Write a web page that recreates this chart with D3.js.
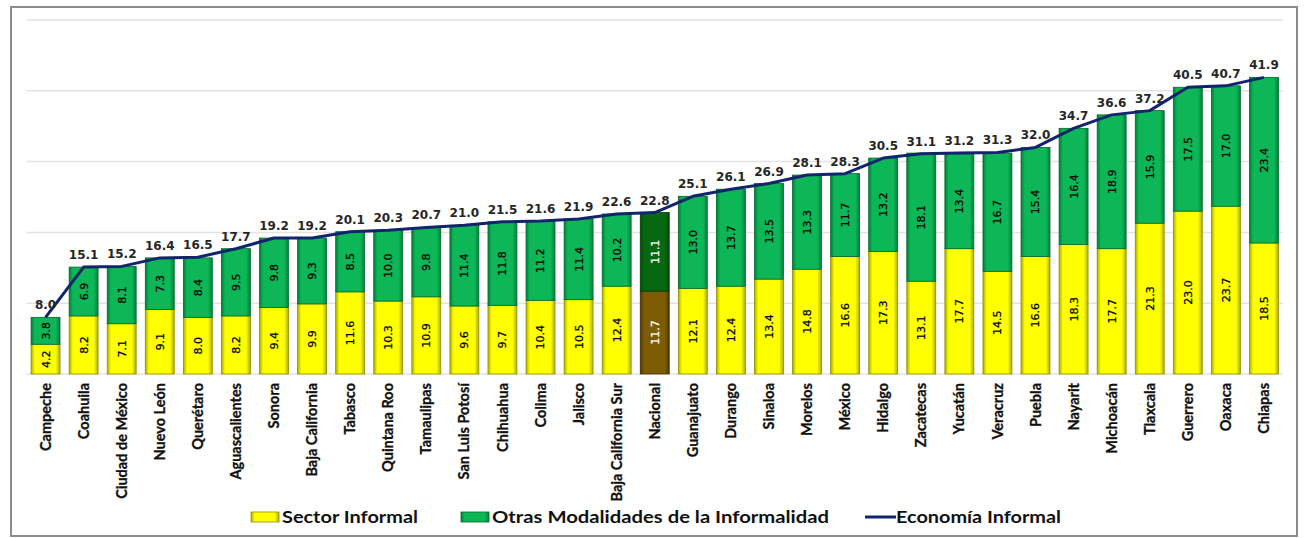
<!DOCTYPE html>
<html>
<head>
<meta charset="utf-8">
<script src="https://cdn.jsdelivr.net/npm/d3@7"></script>
<style>
  body { margin: 0; background: #fff; }
  svg { display: block; }
</style>
</head>
<body>
<div id="chart"></div>
<script>
// Datos
const estados = ["Campeche", "Coahuila", "Ciudad de México", "Nuevo León", "Querétaro", "Aguascalientes",
  "Sonora", "Baja California", "Tabasco", "Quintana Roo", "Tamaulipas", "San Luis Potosí", "Chihuahua",
  "Colima", "Jalisco", "Baja California Sur", "Nacional", "Guanajuato", "Durango", "Sinaloa", "Morelos",
  "México", "Hidalgo", "Zacatecas", "Yucatán", "Veracruz", "Puebla", "Nayarit", "Michoacán", "Tlaxcala",
  "Guerrero", "Oaxaca", "Chiapas"];
const sectorInformal = [4.2, 8.2, 7.1, 9.1, 8.0, 8.2, 9.4, 9.9, 11.6, 10.3, 10.9, 9.6, 9.7, 10.4, 10.5, 12.4,
  11.7, 12.1, 12.4, 13.4, 14.8, 16.6, 17.3, 13.1, 17.7, 14.5, 16.6, 18.3, 17.7, 21.3, 23.0, 23.7, 18.5];
const otrasModalidades = [3.8, 6.9, 8.1, 7.3, 8.4, 9.5, 9.8, 9.3, 8.5, 10.0, 9.8, 11.4, 11.8, 11.2, 11.4, 10.2,
  11.1, 13.0, 13.7, 13.5, 13.3, 11.7, 13.2, 18.1, 13.4, 16.7, 15.4, 16.4, 18.9, 15.9, 17.5, 17.0, 23.4];
const economiaInformal = [8.0, 15.1, 15.2, 16.4, 16.5, 17.7, 19.2, 19.2, 20.1, 20.3, 20.7, 21.0, 21.5, 21.6,
  21.9, 22.6, 22.8, 25.1, 26.1, 26.9, 28.1, 28.3, 30.5, 31.1, 31.2, 31.3, 32.0, 34.7, 36.6, 37.2, 40.5, 40.7, 41.9];
const yTicks = [0, 10, 20, 30, 40, 50];
const series = ["Sector Informal", "Otras Modalidades de la Informalidad", "Economía Informal"];

const width = 1304;
const height = 538;
const margin = { top: 20, right: 21, bottom: 164, left: 26.5 };

const data = estados.map((d, i) => ({
  estado: d,
  si: sectorInformal[i],
  om: otrasModalidades[i],
  total: economiaInformal[i],
}));

const svg = d3.select("div#chart").append("svg")
  .attr("width", width)
  .attr("height", height);

// Gradientes para el efecto biselado
const defs = svg.append("defs");
const grad = (id, edge, base) => {
  const g = defs.append("linearGradient").attr("id", id).attr("x1", 0).attr("x2", 1).attr("y1", 0).attr("y2", 0);
  g.append("stop").attr("offset", "0%").attr("stop-color", edge);
  g.append("stop").attr("offset", "13%").attr("stop-color", base);
  g.append("stop").attr("offset", "85%").attr("stop-color", base);
  g.append("stop").attr("offset", "100%").attr("stop-color", edge);
};
grad("gYellow", "#adad00", "#ffff00");
grad("gGreen", "#00803a", "#0db757");
grad("gBrown", "#4d3900", "#7e5c05");
grad("gDark", "#024a08", "#086812");

// Marco
svg.append("rect")
  .attr("x", 11).attr("y", 7)
  .attr("width", 1286).attr("height", 529)
  .attr("fill", "none")
  .attr("stroke", "#8c8c8c")
  .attr("stroke-width", 2);

const x = d3.scaleBand()
  .domain(estados)
  .range([margin.left, width - margin.right])
  .paddingInner(0.24)
  .paddingOuter(0.12);
const y = d3.scaleLinear()
  .domain([0, 50])
  .range([height - margin.bottom, margin.top]);

// Rejilla
svg.append("g").selectAll("line")
  .data(yTicks)
  .join("line")
  .attr("x1", margin.left)
  .attr("x2", width - margin.right)
  .attr("y1", (d) => y(d))
  .attr("y2", (d) => y(d))
  .attr("stroke", "#e3e3e3")
  .attr("stroke-width", 1.5);

// Barras
const bars = svg.append("g");
const nac = (d) => d.estado === "Nacional";
bars.selectAll("rect.si")
  .data(data)
  .join("rect")
  .attr("class", "si")
  .attr("x", (d) => x(d.estado))
  .attr("y", (d) => y(d.si))
  .attr("width", x.bandwidth())
  .attr("height", (d) => y(0) - y(d.si))
  .attr("fill", (d) => (nac(d) ? "url(#gBrown)" : "url(#gYellow)"))
  .attr("stroke", (d) => (nac(d) ? "#3d2d00" : "#8f8f00"))
  .attr("stroke-width", 0.8);
bars.selectAll("rect.om")
  .data(data)
  .join("rect")
  .attr("class", "om")
  .attr("x", (d) => x(d.estado))
  .attr("y", (d) => y(d.si + d.om))
  .attr("width", x.bandwidth())
  .attr("height", (d) => y(d.si) - y(d.si + d.om))
  .attr("fill", (d) => (nac(d) ? "url(#gDark)" : "url(#gGreen)"))
  .attr("stroke", (d) => (nac(d) ? "#013a05" : "#00662c"))
  .attr("stroke-width", 0.8);

// Etiquetas dentro de los segmentos
const segLabel = (cls, val, base) => {
  bars.selectAll("text." + cls)
    .data(data)
    .join("text")
    .attr("class", cls)
    .attr("transform", (d) => `translate(${x(d.estado) + x.bandwidth() / 2},${(y(base(d)) + y(base(d) + val(d))) / 2}) rotate(-90)`)
    .attr("text-anchor", "middle")
    .attr("dy", "0.36em")
    .attr("font-family", "DejaVu Sans")
    .attr("font-size", 11)
    .attr("stroke", (d) => (nac(d) ? "#fff" : "#000"))
    .attr("stroke-width", 0.25)
    .attr("fill", (d) => (nac(d) ? "#fff" : "#000"))
    .text((d) => val(d).toFixed(1));
};
segLabel("lsi", (d) => d.si, () => 0);
segLabel("lom", (d) => d.om, (d) => d.si);

// Línea de economía informal
const line = d3.line()
  .x((d) => x(d.estado) + x.bandwidth() / 2)
  .y((d) => y(d.total));
svg.append("path")
  .datum(data)
  .attr("d", line)
  .attr("fill", "none")
  .attr("stroke", "#12246b")
  .attr("stroke-width", 3)
  .attr("stroke-linejoin", "round");

// Etiquetas de totales
svg.append("g").selectAll("text")
  .data(data)
  .join("text")
  .attr("x", (d) => x(d.estado) + x.bandwidth() / 2)
  .attr("y", (d) => y(d.total) - 8)
  .attr("text-anchor", "middle")
  .attr("font-family", "DejaVu Sans")
  .attr("font-weight", "bold")
  .attr("font-size", 12)
  .attr("fill", "#262626")
  .text((d) => d.total.toFixed(1));

// Eje X (nombres rotados)
const xAxis = d3.axisBottom(x).tickSize(0).tickPadding(0);
const xAxisGroup = svg.append("g")
  .attr("transform", `translate(0, ${y(0)})`)
  .call(xAxis);
xAxisGroup.select(".domain").remove();
xAxisGroup.selectAll("text")
  .attr("transform", "rotate(-90)")
  .attr("x", -9)
  .attr("y", 0)
  .attr("dy", "0.35em")
  .attr("text-anchor", "end")
  .attr("font-family", "Lato")
  .attr("font-weight", "bold")
  .attr("font-size", 14.5)
  .attr("stroke", "#111")
  .attr("stroke-width", 0.3)
  .attr("fill", "#111");

// Leyenda
const legend = svg.append("g").attr("font-family", "Lato").attr("font-weight", "bold").attr("font-size", 17);
const legendItems = [
  { name: series[0], x: 251, w: 136, type: "rect", fill: "url(#gYellow)", stroke: "#8f8f00" },
  { name: series[1], x: 461, w: 337, type: "rect", fill: "url(#gGreen)", stroke: "#00662c" },
  { name: series[2], x: 865, w: 165, type: "line", fill: "#12246b" },
];
legendItems.forEach((d) => {
  if (d.type === "rect") {
    legend.append("rect")
      .attr("x", d.x).attr("y", 512)
      .attr("width", 28).attr("height", 10)
      .attr("fill", d.fill).attr("stroke", d.stroke).attr("stroke-width", 0.8);
  } else {
    legend.append("line")
      .attr("x1", d.x).attr("x2", d.x + 31)
      .attr("y1", 517).attr("y2", 517)
      .attr("stroke", d.fill).attr("stroke-width", 3);
  }
  legend.append("text")
    .attr("x", d.x + 31)
    .attr("y", 517)
    .attr("dy", "0.35em")
    .attr("textLength", d.w)
    .attr("lengthAdjust", "spacingAndGlyphs")
    .attr("fill", "#111")
    .text(d.name);
});
</script>
</body>
</html>
